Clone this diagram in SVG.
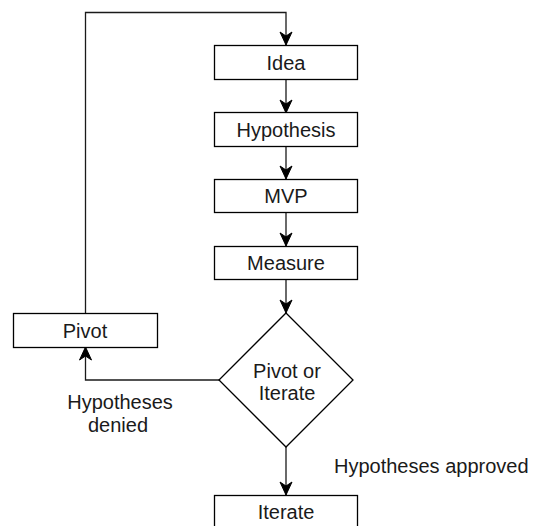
<svg xmlns="http://www.w3.org/2000/svg" width="534" height="526" viewBox="0 0 534 526">
  <style>
    .box { fill: #ffffff; stroke: #000000; stroke-width: 1.3; }
    .edge { fill: none; stroke: #1a1a1a; stroke-width: 1.3; }
    .label { font-family: "Liberation Sans", Arial, Helvetica, sans-serif; font-size: 20px; fill: #1a1a1a; }
    .mid { text-anchor: middle; }
  </style>
  <defs>
    <marker id="arrow" markerUnits="userSpaceOnUse" viewBox="-14 -7 15 14" refX="0" refY="0" markerWidth="15" markerHeight="14" orient="auto">
      <path d="M0,0 L-13,-6 L-9,0 L-13,6 Z" fill="#000000" stroke="#000000" stroke-width="1"/>
    </marker>
  </defs>
  <rect width="534" height="526" fill="#ffffff"/>

  <g id="connectors">
    <path class="edge" d="M85.5,313 V12.5 H286 V45" marker-end="url(#arrow)"/>
    <path class="edge" d="M286,79 V113" marker-end="url(#arrow)"/>
    <path class="edge" d="M286,146 V179" marker-end="url(#arrow)"/>
    <path class="edge" d="M286,212 V246" marker-end="url(#arrow)"/>
    <path class="edge" d="M286,279 V313" marker-end="url(#arrow)"/>
    <path class="edge" d="M219,380 H85.5 V347" marker-end="url(#arrow)"/>
    <path class="edge" d="M286,447 V495" marker-end="url(#arrow)"/>
    <text class="label mid" x="120" y="409">Hypotheses</text>
    <text class="label mid" x="118" y="431.5">denied</text>
    <text class="label" x="334" y="473">Hypotheses approved</text>
  </g>

  <g id="idea">
    <rect class="box" x="214.5" y="45.5" width="143" height="34"/>
    <text class="label mid" x="286" y="69.5">Idea</text>
  </g>
  <g id="hypothesis">
    <rect class="box" x="214.5" y="112.5" width="143" height="34"/>
    <text class="label mid" x="286" y="136.5">Hypothesis</text>
  </g>
  <g id="mvp">
    <rect class="box" x="214.5" y="179.5" width="143" height="33"/>
    <text class="label mid" x="286" y="203">MVP</text>
  </g>
  <g id="measure">
    <rect class="box" x="214.5" y="246.5" width="143" height="33"/>
    <text class="label mid" x="286" y="270">Measure</text>
  </g>
  <g id="decision">
    <polygon class="box" points="286,313 353,380 286,447 219,380"/>
    <text class="label mid" x="287" y="377.5">Pivot or</text>
    <text class="label mid" x="287" y="399.5">Iterate</text>
  </g>
  <g id="pivot">
    <rect class="box" x="13.5" y="313.5" width="144" height="34"/>
    <text class="label mid" x="85" y="337.5">Pivot</text>
  </g>
  <g id="iterate">
    <rect class="box" x="214.5" y="495.5" width="143" height="34"/>
    <text class="label mid" x="286" y="518.5">Iterate</text>
  </g>
</svg>
